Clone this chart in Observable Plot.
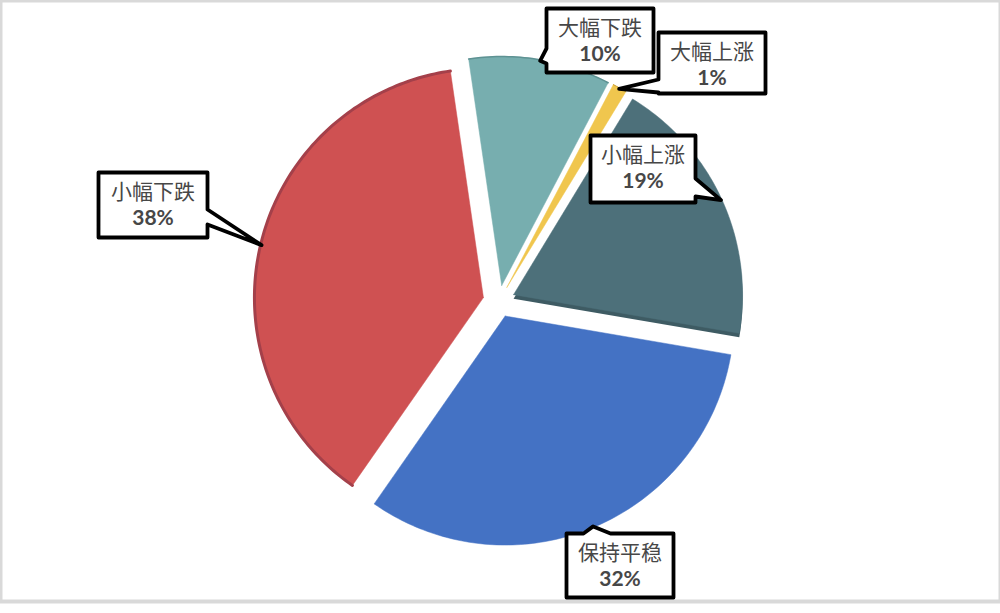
<!DOCTYPE html>
<html>
<head>
<meta charset="utf-8">
<script src="https://cdn.jsdelivr.net/npm/d3@7"></script>
<script src="https://cdn.jsdelivr.net/npm/@observablehq/plot@0.6"></script>
<style>
  html, body { margin: 0; padding: 0; background: #fff; }
  #chart { width: 1000px; height: 613px; overflow: hidden; }
</style>
</head>
<body>
<div id="chart"></div>
<script>
// ---- data (clockwise from top) ----
const categories = ["大幅下跌", "大幅上涨", "小幅上涨", "保持平稳", "小幅下跌"];
const values = [10, 1, 19, 32, 38];

// ---- styles ----
const sliceColors = ["#77AEAF", "#F0C64E", "#4D707A", "#4472C4", "#CF5152"];
const rimColors   = ["#5E9293", "#C9A13A", "#3E5B63", "#4472C4", "#A4404A"];
const rimWidths   = [1.5, 1, 0, 0, 3];
const depth       = [0, 0, 4, 0, 0];

// ---- layout ----
const W = 1000, H = 601;
const CX = 498.5, CY = 300.8, R = 229, EXPLODE = 16, START_DEG = -8.3;
const callouts = {
  "大幅下跌": {box: [546, 8, 653, 72],   side: "left",   base: [48, 63]},
  "大幅上涨": {box: [658, 32, 765, 93],  side: "left",   base: [79, 92]},
  "小幅上涨": {box: [590, 135, 695, 202], side: "right", base: [178, 196]},
  "保持平稳": {box: [566, 533, 673, 597], side: "top",   base: [583, 610]},
  "小幅下跌": {box: [98, 172, 207, 237], side: "right",  base: [209, 224]}
};

const rad = Math.PI / 180;
const arcs = d3.pie().sort(null).value(d => d)
  .startAngle(START_DEG * rad).endAngle(START_DEG * rad + 2 * Math.PI)(values);

const slicePts = [], shadowPts = [], rimPts = [], tips = {};
arcs.forEach((a, i) => {
  const name = categories[i];
  const mid = (a.startAngle + a.endAngle) / 2;
  const cx = CX + EXPLODE * Math.sin(mid), cy = CY - EXPLODE * Math.cos(mid);
  const n = Math.max(4, Math.ceil((a.endAngle - a.startAngle) / rad));
  const arc = d3.range(n + 1).map(k => {
    const t = a.startAngle + (a.endAngle - a.startAngle) * k / n;
    return {name, x: cx + R * Math.sin(t), y: cy - R * Math.cos(t), i};
  });
  const poly = [{name, x: cx, y: cy, i}, ...arc, {name, x: cx, y: cy, i}];
  poly.forEach(p => slicePts.push(p));
  if (depth[i] > 0) poly.forEach(p => shadowPts.push({...p, y: p.y + depth[i]}));
  if (rimWidths[i] > 0) arc.forEach(p => rimPts.push(p));
  tips[name] = {x: cx + (R - 1) * Math.sin(mid), y: cy - (R - 1) * Math.cos(mid)};
});

// callout shapes (box + pointer to slice mid-arc)
const calloutPts = [], labelRows = [];
categories.forEach((name, i) => {
  const c = callouts[name];
  const [x0, y0, x1, y1] = c.box;
  const tip = tips[name];
  const [b0, b1] = c.base;
  let pts = [[x0, y0]];
  if (c.side === "top") pts.push([b0, y0], [tip.x, tip.y], [b1, y0]);
  pts.push([x1, y0]);
  if (c.side === "right") pts.push([x1, b0], [tip.x, tip.y], [x1, b1]);
  pts.push([x1, y1]);
  if (c.side === "bottom") pts.push([b1, y1], [tip.x, tip.y], [b0, y1]);
  pts.push([x0, y1]);
  if (c.side === "left") pts.push([x0, b1], [tip.x, tip.y], [x0, b0]);
  pts.push([x0, y0]);
  pts.forEach(([x, y]) => calloutPts.push({name, x, y}));
  labelRows.push({name, pct: values[i] + "%", x: (x0 + x1) / 2, y1: y0 + 20, y2: y0 + 46});
});

const chart = Plot.plot({
  width: W, height: H, margin: 0,
  x: {domain: [0, W], range: [0, W], axis: null},
  y: {domain: [0, H], range: [0, H], axis: null},
  color: {type: "identity"},
  style: {background: "#fff", overflow: "visible"},
  marks: [
    Plot.frame({stroke: "#D9D9D9", strokeWidth: 4}),
    Plot.line(shadowPts, {x: "x", y: "y", z: "name", fill: d => rimColors[d.i], stroke: "none", curve: "linear"}),
    Plot.line(slicePts, {x: "x", y: "y", z: "name", fill: d => sliceColors[d.i], stroke: d => sliceColors[d.i], strokeWidth: 0.5, curve: "linear"}),
    Plot.line(rimPts, {x: "x", y: "y", z: "name", stroke: d => rimColors[d.i], strokeWidth: d => rimWidths[d.i], curve: "linear"}),
    Plot.line(calloutPts, {x: "x", y: "y", z: "name", fill: "#fff", stroke: "#000", strokeWidth: 3.8, strokeLinejoin: "round", curve: "linear"}),
    Plot.text(labelRows, {x: "x", y: "y1", text: "name", fill: "#474747", fontSize: 21,
      fontFamily: "'Noto Sans CJK SC', sans-serif", fontWeight: "normal"}),
    Plot.text(labelRows, {x: "x", y: "y2", text: "pct", fill: "#474747", fontSize: 21,
      fontFamily: "Lato, 'Noto Sans', sans-serif", fontWeight: "bold"})
  ]
});
document.getElementById("chart").appendChild(chart);
</script>
</body>
</html>
